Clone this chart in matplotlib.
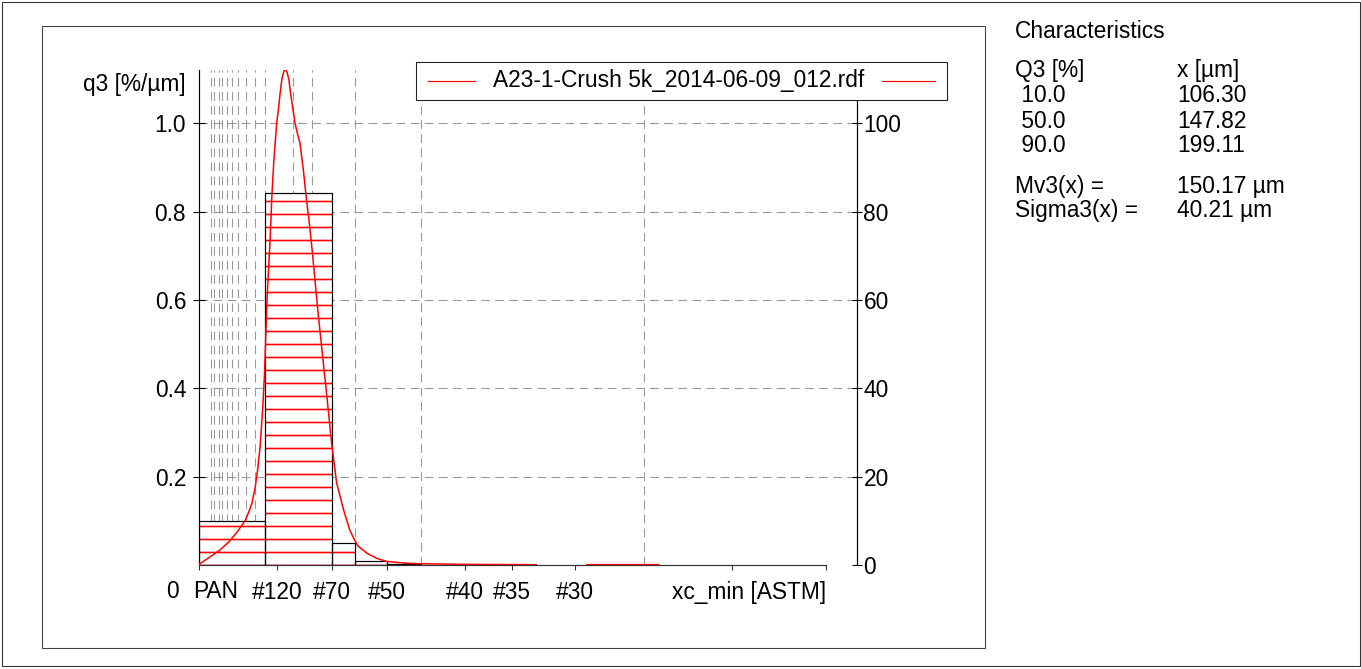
import matplotlib
matplotlib.use("Agg")
import matplotlib.pyplot as plt
from matplotlib.patches import Rectangle
from matplotlib.lines import Line2D
import numpy as np

# sieve classes (ASTM) in um
sieve_um = [20, 25, 32, 38, 45, 53, 63, 75, 90, 106, 125, 150, 180, 212, 250,
            300, 355, 425, 500, 600, 710, 850, 1000]
tick_um = [0, 125, 212, 300, 425, 500, 600, 850, 1000]
tick_lbl = ['', '#120', '#70', '#50', '#40', '#35', '#30', '', '']

# histogram q3 [%/um] per class
bar_left = [0, 106, 212, 250, 300, 355, 425]
bar_right = [106, 212, 250, 300, 355, 425, 500]
bar_q3 = [0.099, 0.842, 0.049, 0.009, 0.002, 0.001, 0.0005]

# density curve
curve_x = [0, 18, 34, 48, 60, 68, 74, 80, 85, 90, 94, 98, 102, 105, 109, 114,
           117, 120, 124.5, 128, 130, 133, 136, 138.5, 141, 144, 146.5, 150.5,
           153.6, 158, 161.6, 167, 172, 176, 181, 185.5, 190, 195, 200, 205,
           212, 220, 231, 241, 247, 254, 262, 268, 284, 300, 332, 353, 417,
           480, 538, np.nan, 619, 733]
curve_y = [0.001, 0.018, 0.034, 0.052, 0.072, 0.088, 0.100, 0.120, 0.140,
           0.174, 0.215, 0.267, 0.351, 0.430, 0.600, 0.736, 0.842, 0.917,
           1.001, 1.041, 1.069, 1.103, 1.118, 1.121, 1.116, 1.098, 1.069,
           1.030, 1.001, 0.974, 0.955, 0.894, 0.826, 0.781, 0.713, 0.645,
           0.577, 0.509, 0.441, 0.374, 0.276, 0.186, 0.125, 0.079, 0.061,
           0.043, 0.034, 0.027, 0.015, 0.008, 0.004, 0.003, 0.0016, 0.001,
           0.0008, np.nan, 0.0008, 0.0008]

legend_name = "A23-1-Crush 5k_2014-06-09_012.rdf"
char_q3 = [" 10.0", " 50.0", " 90.0"]
char_x = ["106.30", "147.82", "199.11"]
mv3 = "150.17 µm"
sigma3 = "40.21 µm"

W, H, DPI = 1362, 669, 78
plt.rcParams['font.family'] = ['Liberation Sans', 'DejaVu Sans']
plt.rcParams['font.size'] = 21
plt.rcParams['hatch.linewidth'] = 1.5


def fx(x):
    return x / W


def fy(y):
    return 1 - y / H


fig = plt.figure(figsize=(W / DPI, H / DPI), dpi=DPI)

# frames
fig.add_artist(Rectangle((fx(2), fy(666)), fx(1358), 664 / H, transform=fig.transFigure,
                         fill=False, ec='#333333', lw=1))
fig.add_artist(Rectangle((fx(42), fy(648)), fx(985 - 42), (648 - 26) / H,
                         transform=fig.transFigure, fill=False, ec='#444444', lw=1))

ax = fig.add_axes([fx(198.6), fy(565), fx(857.5 - 198.6), (565 - 70) / H])
ax.set_xlim(0, 1050.2)
ax.set_ylim(0, 1.1207)

widths = [r - l for l, r in zip(bar_left, bar_right)]
ax.bar(bar_left, bar_q3, width=widths, align='edge', facecolor='white',
       edgecolor='red', hatch='-', linewidth=0, zorder=2)
ax.bar(bar_left, bar_q3, width=widths, align='edge', facecolor='none',
       edgecolor='black', linewidth=1.1, zorder=3)
ax.plot(curve_x, curve_y, color='red', lw=1.4, zorder=5)

ax.set_xticks(tick_um)
ax.set_xticklabels(tick_lbl)
ax.set_xticks(sieve_um, minor=True)
ax.tick_params(axis='x', which='major', direction='out', length=4.5, width=1,
               color='#333333', pad=10)
ax.tick_params(axis='x', which='minor', length=0)
ax.grid(True, which='minor', axis='x', color='#999999', lw=1.0,
        linestyle=(0, (8, 5)), zorder=1)

ax.set_yticks([0.2, 0.4, 0.6, 0.8, 1.0])
ax.set_yticklabels(['0.2', '0.4', '0.6', '0.8', '1.0'])
ax.tick_params(axis='y', direction='inout', length=11, width=1, pad=6)
ax.grid(True, which='major', axis='y', color='#999999', lw=1.0,
        linestyle=(0, (8, 5)), zorder=1)
ax.set_axisbelow(True)

for s in ['top', 'right']:
    ax.spines[s].set_visible(False)
ax.spines['bottom'].set_bounds(0, 1000)
ax.spines['bottom'].set_color('#333333')
ax.spines['left'].set_linewidth(1.1)
ax.spines['bottom'].set_linewidth(1.1)
ax.spines['bottom'].set_zorder(4)

ax2 = ax.twinx()
ax2.set_ylim(0, 112.07)
ax2.set_yticks([0, 20, 40, 60, 80, 100])
ax2.tick_params(axis='y', direction='inout', length=9, width=1, pad=1)
for s in ['top', 'left', 'bottom']:
    ax2.spines[s].set_visible(False)
ax2.spines['right'].set_linewidth(1.1)

# axis captions
fig.text(fx(186), fy(84), "q3 [%/µm]", ha='right', va='center')
fig.text(fx(172), fy(592), "0", ha='center', va='center')
fig.text(fx(216), fy(592), "PAN", ha='center', va='center')
fig.text(fx(826), fy(592), "xc_min [ASTM]", ha='right', va='center')

# legend box
fig.add_artist(Rectangle((fx(416), fy(100)), fx(947 - 416), 38 / H, transform=fig.transFigure,
                         fc='white', ec='#222222', lw=1, zorder=10))
fig.add_artist(Line2D([fx(428), fx(475)], [fy(81), fy(81)], color='red', lw=1.1, zorder=11))
fig.add_artist(Line2D([fx(882), fx(935)], [fy(81), fy(81)], color='red', lw=1.1, zorder=11))
fig.text(fx(493), fy(81), legend_name, ha='left', va='center', zorder=12)

# characteristics panel
fig.text(fx(1015), fy(31), "Characteristics", ha='left', va='center')
fig.text(fx(1015), fy(71), "Q3 [%]", ha='left', va='center')
fig.text(fx(1177), fy(71), "x [µm]", ha='left', va='center')
for i, (q, xv) in enumerate(zip(char_q3, char_x)):
    fig.text(fx(1015), fy(96 + 25 * i), q, ha='left', va='center')
    fig.text(fx(1177), fy(96 + 25 * i), xv, ha='left', va='center')
fig.text(fx(1015), fy(186), "Mv3(x) =", ha='left', va='center')
fig.text(fx(1177), fy(186), mv3, ha='left', va='center')
fig.text(fx(1015), fy(211), "Sigma3(x) =", ha='left', va='center')
fig.text(fx(1177), fy(211), sigma3, ha='left', va='center')

fig.savefig("out.png", dpi=DPI)
